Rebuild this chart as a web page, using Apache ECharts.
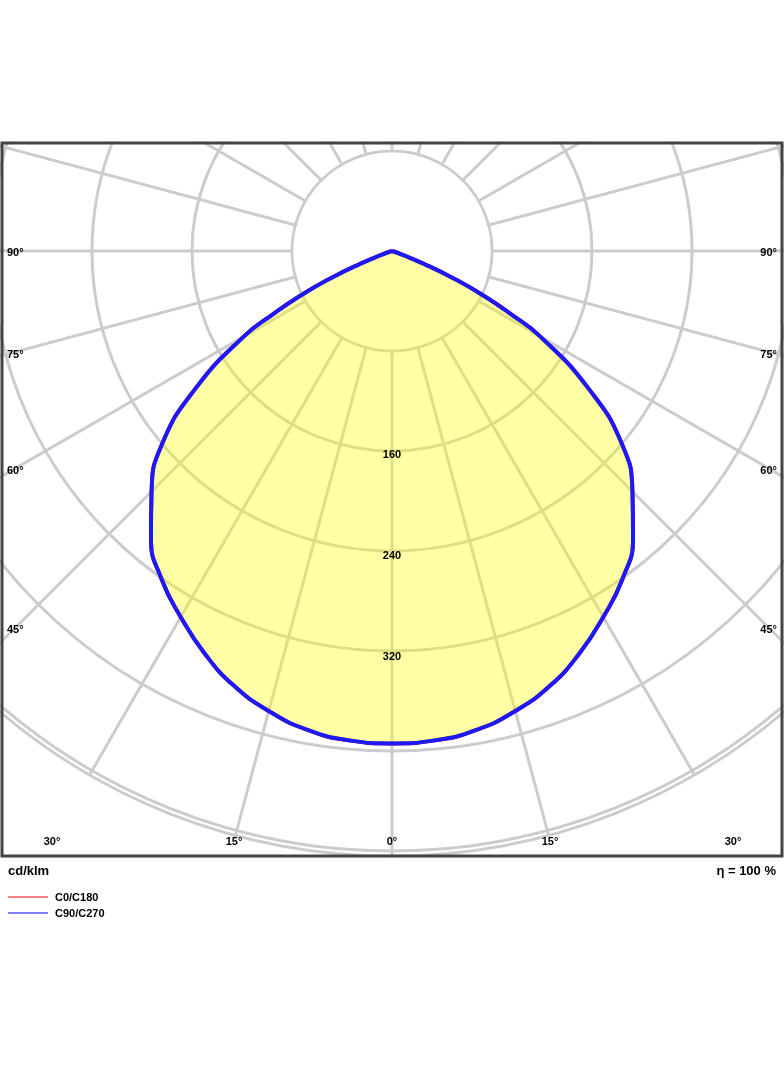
<!DOCTYPE html>
<html><head><meta charset="utf-8">
<script src="https://cdn.jsdelivr.net/npm/echarts@6/dist/echarts.min.js"></script>
<style>html,body{margin:0;padding:0;background:#fff}#ldc{width:784px;height:1066px}</style>
</head><body><div id="ldc"></div>
<script>
// angles from nadir (deg) and intensity (cd/klm), same for both half planes
var gammaAngles = [0, 5, 10, 15, 20, 25, 30, 35, 40, 45, 50, 55, 60, 62, 64, 66, 68, 70, 75, 90, 180];
var c90Values   = [394, 393, 389, 381, 370, 355, 338, 321, 300, 272, 240, 192, 137, 108, 82, 54, 28, 9, 0, 0, 0];
var c0Values    = c90Values.slice();
var ringLabels  = ['160', '240', '320'];
var sideLabels  = ['90°', '75°', '60°', '45°'];
var bottomLabels = ['30°', '15°', '0°', '15°', '30°'];

function mirror(vals) {
    var pts = [];
    for (var i = gammaAngles.length - 1; i >= 0; i--) pts.push([vals[i], gammaAngles[i]]);
    for (var j = 1; j < gammaAngles.length; j++) pts.push([vals[j], 360 - gammaAngles[j]]);
    return pts;
}

var chart = echarts.init(document.getElementById('ldc'));
var font = 'Liberation Sans, Arial, sans-serif';
var txt = function (x, y, s, align, size) {
    return { type: 'text', z: 30, x: x, y: y, style: { text: s, fill: '#000', font: 'bold ' + (size || 11) + 'px ' + font, align: align || 'center', verticalAlign: 'middle' } };
};
var gfx = [
    { type: 'circle', z: 1, shape: { cx: 392, cy: 251, r: 98.5 }, style: { fill: '#fff' } },
    { type: 'rect', z: 20, shape: { x: 0, y: 0, width: 784, height: 141.5 }, style: { fill: '#fff' } },
    { type: 'rect', z: 20, shape: { x: 0, y: 857.5, width: 784, height: 210 }, style: { fill: '#fff' } },
    { type: 'rect', z: 21, shape: { x: 2, y: 143, width: 780, height: 713 }, style: { fill: 'none', stroke: '#444', lineWidth: 3 } },
    { type: 'line', z: 21, shape: { x1: 8, y1: 897, x2: 48, y2: 897 }, style: { stroke: '#ff0000', lineWidth: 1 } },
    { type: 'line', z: 21, shape: { x1: 8, y1: 913, x2: 48, y2: 913 }, style: { stroke: '#0000ff', lineWidth: 1 } }
];
var sideY = [253, 355, 471, 630];
sideLabels.forEach(function (s, i) {
    gfx.push(txt(7, sideY[i], s, 'left'));
    gfx.push(txt(777, sideY[i], s, 'right'));
});
var botX = [52, 234, 392, 550, 733];
bottomLabels.forEach(function (s, i) { gfx.push(txt(botX[i], 842, s)); });
var ringY = [455, 556, 657];
ringLabels.forEach(function (s, i) { gfx.push(txt(392, ringY[i], s)); });
gfx.push(txt(8, 871, 'cd/klm', 'left', 13));
gfx.push(txt(776, 871, 'η = 100 %', 'right', 13));
gfx.push(txt(55, 898, 'C0/C180', 'left'));
gfx.push(txt(55, 914, 'C90/C270', 'left'));

var option = {
    animation: false,
    polar: { center: [392, 251], radius: [0, 605] },
    angleAxis: {
        type: 'value', min: 0, max: 360, interval: 15, startAngle: 270,
        axisLine: { show: false }, axisTick: { show: false }, axisLabel: { show: false },
        splitLine: { show: true, lineStyle: { color: '#cccccc', width: 3 } }
    },
    radiusAxis: {
        type: 'value', min: 0, max: 484, interval: 80,
        axisLine: { show: false }, axisTick: { show: false }, axisLabel: { show: false },
        splitLine: { show: true, lineStyle: { color: '#cccccc', width: 3 } }
    },
    series: [
        {
            name: 'C0/C180', type: 'line', coordinateSystem: 'polar', z: 3, symbol: 'none', smooth: true,
            data: mirror(c0Values), lineStyle: { color: '#ff0000', width: 4 }
        },
        {
            name: 'C90/C270', type: 'line', coordinateSystem: 'polar', z: 4, symbol: 'none', smooth: true,
            data: mirror(c90Values), lineStyle: { color: '#1a1aff', width: 4 },
            areaStyle: { color: 'rgba(255,255,0,0.5)', origin: 'start' }
        }
    ],
    graphic: gfx
};
chart.setOption(option);
</script></body></html>
